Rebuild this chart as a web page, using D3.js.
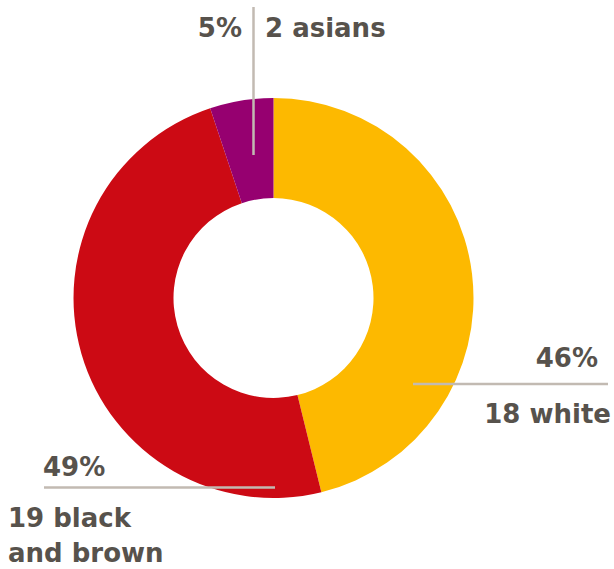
<!DOCTYPE html>
<html>
<head>
<meta charset="utf-8">
<script src="https://cdn.jsdelivr.net/npm/d3@7"></script>
<style>
  body { margin: 0; background: #fff; }
  text { font-family: "DejaVu Sans", sans-serif; font-weight: 700; fill: #57524c; }
</style>
</head>
<body>
<div id="chart"></div>
<script>
const groups = ["white", "black and brown", "asians"];
const counts = [18, 19, 2];
const colors = ["#fdb900", "#cc0a14", "#960070"];

const w = 614;
const h = 569;
const cx = 273.5;
const cy = 298;
const outerR = 200;
const innerR = 100;

const svg = d3.select("#chart")
    .append("svg")
    .attr("width", w)
    .attr("height", h);

const total = d3.sum(counts);
const pct = counts.map(c => Math.round(c / total * 100) + "%");

const pie = d3.pie().sort(null).value(d => d);
const arc = d3.arc().innerRadius(innerR).outerRadius(outerR);

const donut = svg.append("g")
    .attr("transform", "translate(" + cx + "," + cy + ")");

donut.selectAll("path")
    .data(pie(counts))
    .enter()
    .append("path")
    .attr("d", arc)
    .attr("fill", (d, i) => colors[i]);

// leader lines
const lineColor = "#c2bab2";
svg.append("line")
    .attr("x1", 253.5).attr("x2", 253.5)
    .attr("y1", 7).attr("y2", 155)
    .attr("stroke", lineColor).attr("stroke-width", 2.5);
svg.append("line")
    .attr("x1", 413).attr("x2", 608)
    .attr("y1", 384).attr("y2", 384)
    .attr("stroke", lineColor).attr("stroke-width", 2.5);
svg.append("line")
    .attr("x1", 44).attr("x2", 275)
    .attr("y1", 487.5).attr("y2", 487.5)
    .attr("stroke", lineColor).attr("stroke-width", 2.5);

// labels
const fs = 26;
function label(x, y, anchor, str) {
    return svg.append("text")
        .attr("x", x).attr("y", y)
        .attr("text-anchor", anchor)
        .style("font-size", fs + "px")
        .text(str);
}
label(242, 37, "end", pct[2]);
label(265, 37, "start", counts[2] + " " + groups[2]);
label(598, 367, "end", pct[0]);
label(611, 423, "end", counts[0] + " " + groups[0]);
label(43, 476, "start", pct[1]);
label(8, 527, "start", counts[1] + " black");
label(8, 562, "start", "and brown");
</script>
</body>
</html>
